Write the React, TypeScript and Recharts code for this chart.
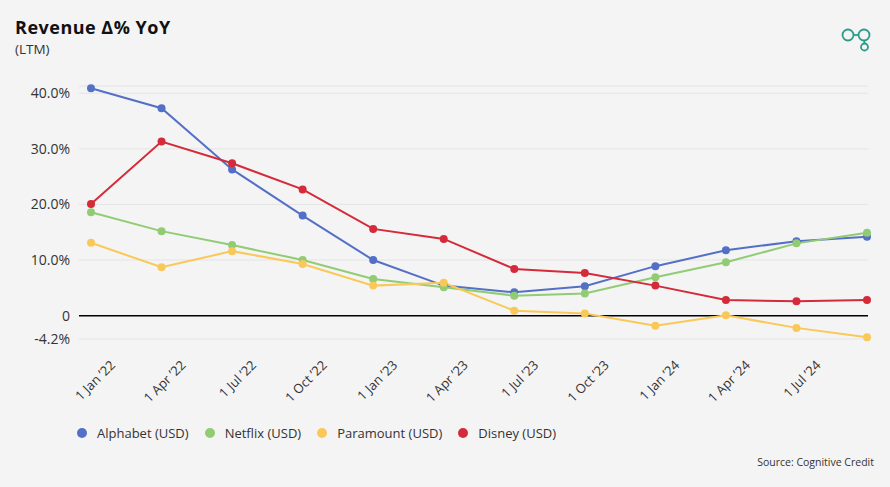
import React from "react";
import { LineChart, Line, XAxis, YAxis, CartesianGrid, ReferenceLine } from "recharts";

const categories = [
  "1 Jan ’22", "1 Apr ’22", "1 Jul ’22", "1 Oct ’22",
  "1 Jan ’23", "1 Apr ’23", "1 Jul ’23", "1 Oct ’23",
  "1 Jan ’24", "1 Apr ’24", "1 Jul ’24", "1 Oct ’24",
];
const labeledTicks = categories.slice(0, 11);

const alphabet = [40.9, 37.3, 26.3, 18.0, 10.0, 5.4, 4.2, 5.3, 8.9, 11.75, 13.4, 14.2];
const netflix = [18.6, 15.2, 12.7, 10.0, 6.6, 5.1, 3.6, 4.0, 6.9, 9.6, 13.0, 14.9];
const paramount = [13.1, 8.7, 11.6, 9.3, 5.4, 5.9, 0.9, 0.4, -1.8, 0.05, -2.2, -3.9];
const disney = [20.1, 31.3, 27.4, 22.7, 15.6, 13.8, 8.4, 7.65, 5.4, 2.8, 2.6, 2.8];

const yTicks = [-4.2, 0, 10, 20, 30, 40, 41.3];
const yMin = -4.2;
const yMax = 41.3;

const series = [
  { key: "alphabet", name: "Alphabet (USD)", color: "#5470c6", values: alphabet },
  { key: "netflix", name: "Netflix (USD)", color: "#91cc75", values: netflix },
  { key: "paramount", name: "Paramount (USD)", color: "#fac858", values: paramount },
  { key: "disney", name: "Disney (USD)", color: "#d42a3a", values: disney },
];

const data = categories.map((c, i) => {
  const row: any = { date: c };
  series.forEach((s) => (row[s.key] = s.values[i]));
  return row;
});

const FONT = "'Open Sans', 'Noto Sans', sans-serif";

const fmtY = (v: number) => {
  if (v === yMax) return "";
  if (v === 0) return "0";
  return `${v.toFixed(1)}%`;
};

const XTick = (props: any) => {
  const { x, y, payload } = props;
  if (!labeledTicks.includes(payload.value)) return <g />;
  return (
    <g transform={`translate(${x + 25},${y + 19}) rotate(-45)`}>
      <text x={0} y={0} textAnchor="end" fill="#333" fontSize={13} fontFamily={FONT}>
        {payload.value}
      </text>
    </g>
  );
};

export default function App() {
  return (
    <div
      style={{
        position: "fixed",
        left: 0,
        top: 0,
        width: 890,
        height: 487,
        background: "#f4f4f4",
        fontFamily: FONT,
        overflow: "hidden",
      }}
    >
      <div style={{ position: "absolute", left: 15, top: 17, fontSize: 18, fontWeight: 700, color: "#111", lineHeight: "20px", letterSpacing: 0.5 }}>
        Revenue Δ% YoY
      </div>
      <div style={{ position: "absolute", left: 15, top: 40.5, fontSize: 13.5, color: "#333", lineHeight: "17px" }}>
        (LTM)
      </div>
      <svg style={{ position: "absolute", left: 836, top: 24 }} width={40} height={32}>
        <g fill="none" stroke="#2a9d8a" strokeWidth={1.8}>
          <circle cx={12} cy={11} r={5.5} />
          <circle cx={28} cy={11} r={5.5} />
          <circle cx={28.5} cy={23} r={3.5} />
          <line x1={17.5} y1={11} x2={22.5} y2={11} />
          <line x1={28.3} y1={16.5} x2={28.4} y2={19.5} />
        </g>
      </svg>
      <div style={{ position: "absolute", left: 0, top: 0 }}>
        <LineChart width={890} height={487} data={data} margin={{ top: 86, right: 22, bottom: 0, left: 0 }}>
          <CartesianGrid horizontal vertical={false} stroke="#e4e4e4" strokeWidth={1} />
          <XAxis
            dataKey="date"
            type="category"
            interval={0}
            padding={{ left: 12, right: 1 }}
            axisLine={false}
            tickLine={false}
            height={148}
            tick={<XTick />}
          />
          <YAxis
            type="number"
            domain={[yMin, yMax]}
            ticks={yTicks}
            interval={0}
            width={79}
            axisLine={false}
            tickLine={false}
            tickSize={0}
            tickMargin={9}
            tickFormatter={fmtY}
            tick={{ fill: "#333", fontSize: 14, fontFamily: FONT }}
          />
          <ReferenceLine y={0} stroke="#000" strokeWidth={1.5} />
          {series.map((s) => (
            <Line
              key={s.key}
              dataKey={s.key}
              name={s.name}
              stroke={s.color}
              strokeWidth={2}
              dot={{ r: 4, fill: s.color, stroke: s.color, strokeWidth: 0 }}
              activeDot={false}
              isAnimationActive={false}
            />
          ))}
        </LineChart>
      </div>
      <div style={{ position: "absolute", left: 77, top: 424, display: "flex", alignItems: "center", fontSize: 13, color: "#333" }}>
        {series.map((s) => (
          <div key={s.key} style={{ display: "flex", alignItems: "center", marginRight: 16 }}>
            <span style={{ width: 10, height: 10, borderRadius: 5, background: s.color, display: "inline-block", marginRight: 10 }} />
            <span>{s.name}</span>
          </div>
        ))}
      </div>
      <div style={{ position: "absolute", right: 16, top: 455, fontSize: 10.5, color: "#333" }}>
        Source: Cognitive Credit
      </div>
    </div>
  );
}
